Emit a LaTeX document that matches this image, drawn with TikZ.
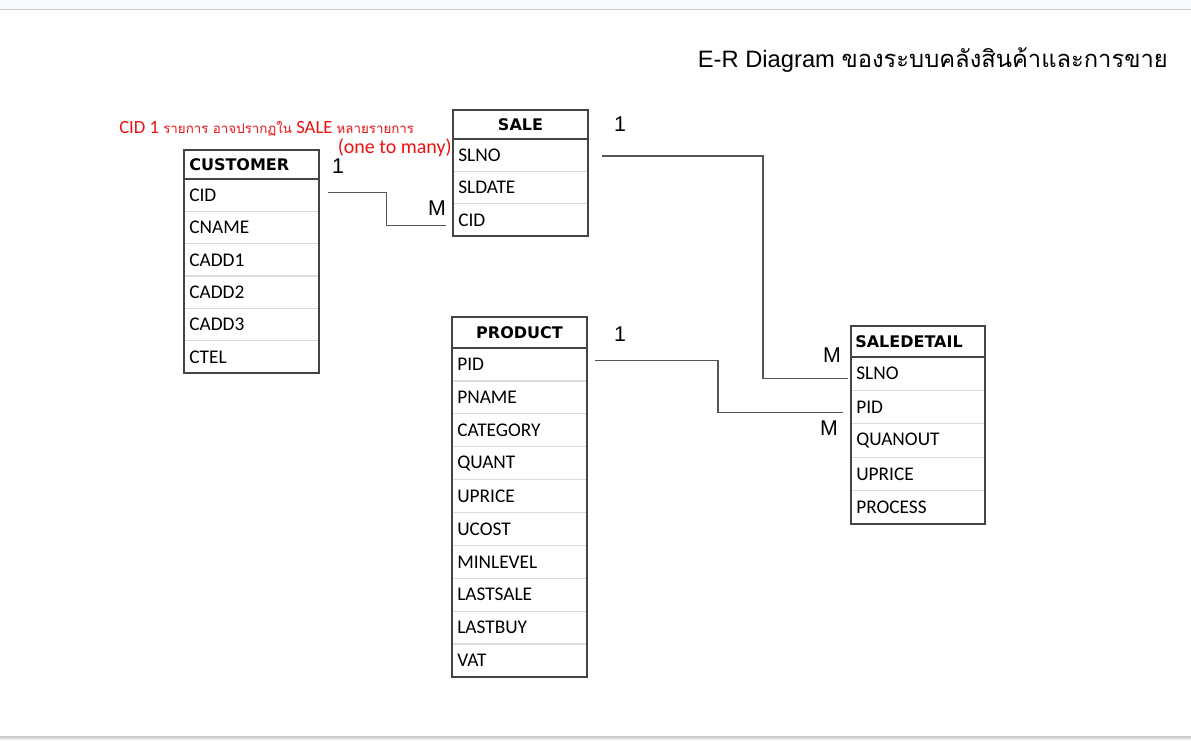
\documentclass[tikz,border=0pt]{standalone}
\usepackage{fontspec}
\setmainfont{Liberation Sans}
\newfontfamily\carl{Carlito}
\newfontfamily\dvb{DejaVu Sans}
\newfontfamily\thaifont[Script=Thai]{Loma}
\usetikzlibrary{calc}
\definecolor{bandgrey}{HTML}{F8F9FA}
\definecolor{edgegrey}{HTML}{CCCCCC}
\definecolor{tabgrey}{HTML}{444444}
\definecolor{divgrey}{HTML}{DCDCDC}
\definecolor{conngrey}{HTML}{555555}
\definecolor{notered}{HTML}{EE1111}
\tikzset{
  hdrtext/.style={font=\dvb\bfseries\fontsize{12}{14}\selectfont, inner sep=0pt},
  fld/.style={font=\carl\fontsize{14.5}{16}\selectfont, inner xsep=3.75pt, inner ysep=0pt, align=left},
  tabline/.style={draw=tabgrey, line width=0.8pt},
  divider/.style={draw=divgrey, line width=1pt},
  conn/.style={draw=conngrey, line width=0.8pt},
  card/.style={font=\fontsize{16}{18}\selectfont, inner sep=0pt},
  notetext/.style={text=notered, inner sep=0pt},
}
% #1 name, #2 x, #3 top, #4 width, #5 header h, #6 row h, #7 nrows, #8 fields
\newcommand\ertab[8]{%
  \pgfmathsetmacro\tabtw{(#4-10)*0.75}%
  \foreach \f [count=\i] in {#8} {
    \node[fld, text width=\tabtw pt, anchor=west] (#1-\i) at (#2, {#3+#5+(\i-0.5)*#6}) {\f};
    \ifnum\i<#7 \draw[divider] (#2, {#3+#5+\i*#6}) -- ++(#4,0); \fi
  }
  \draw[tabline] (#2,#3) rectangle ({#2+#4},{#3+#5+#7*#6});
  \draw[tabline] (#2,{#3+#5}) -- ++(#4,0);
}
\begin{document}
\begin{tikzpicture}[x=0.75pt,y=-0.75pt]
\useasboundingbox (0,0) rectangle (1191,740);
\fill[white] (0,0) rectangle (1191,740);
\fill[bandgrey] (0,0) rectangle (1191,9);
\draw[edgegrey, line width=0.8pt] (0,9.5) -- (1191,9.5);
\fill[black!10] (0,737) rectangle (1191,740);
\draw[edgegrey, line width=0.8pt] (0,737) -- (1191,737);

% title
\node[anchor=east, inner sep=0pt] (title) at (1168,60) {\fontsize{17.8}{20}\selectfont E-R Diagram {\thaifont ของระบบคลังสินค้าและการขาย}};

% tables
\ertab{cust}{184}{150}{135}{29}{32.33}{6}{CID,CNAME,CADD1,CADD2,CADD3,CTEL}
\node[hdrtext, anchor=west] (cust) at (189,164.5) {CUSTOMER};

\ertab{sale}{453}{110}{135}{29}{32.33}{3}{SLNO,SLDATE,CID}
\node[hdrtext] (sale) at (520.5,124.5) {SALE};

\ertab{prod}{452}{317}{135}{31}{32.9}{10}{PID,PNAME,CATEGORY,QUANT,UPRICE,UCOST,MINLEVEL,LASTSALE,LASTBUY,VAT}
\node[hdrtext] (prod) at (519.5,332.5) {PRODUCT};

\ertab{sd}{851}{326}{134}{31}{33.4}{5}{SLNO,PID,QUANOUT,UPRICE,PROCESS}
\node[hdrtext, anchor=west] (sd) at (855,341.5) {SALEDETAIL};

% annotation
\node[notetext, anchor=west] (note) at (119,129) {\carl\fontsize{14}{16}\selectfont CID 1 {\thaifont\fontsize{10}{12}\selectfont รายการ อาจปรากฏใน} SALE {\thaifont\fontsize{10}{12}\selectfont หลายรายการ}};
\node[notetext, anchor=east] (note2) at (452,148) {\carl\fontsize{15}{17}\selectfont (one to many)};

% connectors
\coordinate (c1s) at ([xshift=6pt,yshift=2.25pt]cust-1.east);
\coordinate (c1e) at ([xshift=-5.25pt,yshift=-4.6pt]sale-3.west);
\draw[conn] (c1s) -| ($(c1s)!0.5!(c1e)$) |- (c1e);

\coordinate (c2s) at ([xshift=9.75pt,yshift=-0.6pt]sale-1.east);
\coordinate (c2e) at ([xshift=-2.25pt,yshift=-3.9pt]sd-1.west);
\coordinate (k2) at (763,0);
\draw[conn] (c2s) -| (k2 |- c2e) -- (c2e);

\coordinate (c3s) at ([xshift=5.25pt,yshift=3.3pt]prod-1.east);
\coordinate (c3e) at ([xshift=-6pt,yshift=-3.7pt]sd-2.west);
\coordinate (k3) at (718,0);
\draw[conn] (c3s) -| (k3 |- c3e) -- (c3e);

% cardinalities
\node[card] (n1a) at (338,166) {1};
\node[card] (m1a) at (437,208) {M};
\node[card] (n2a) at (620,124) {1};
\node[card] (m2a) at (832,355) {M};
\node[card] (n3a) at (620,334) {1};
\node[card] (m3a) at (829,428) {M};
\end{tikzpicture}
\end{document}
